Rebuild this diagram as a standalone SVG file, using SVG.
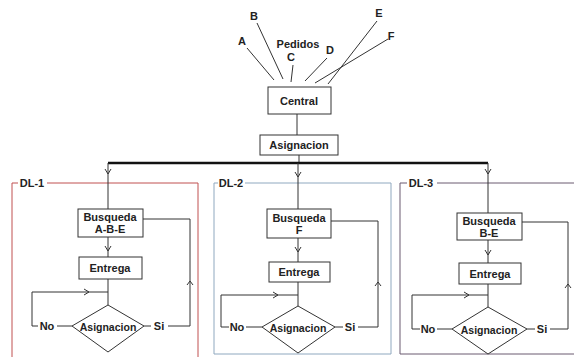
<svg xmlns="http://www.w3.org/2000/svg" width="574" height="357" viewBox="0 0 574 357">
<style>
text{font-family:"Liberation Sans",Arial,sans-serif;font-weight:bold;font-size:11px;fill:#222;text-anchor:middle;dominant-baseline:central}
.dt{font-size:10.5px}
.box{fill:#fff;stroke:#333;stroke-width:1}
.ln{fill:none;stroke:#333;stroke-width:1}
.thick{fill:none;stroke:#111;stroke-width:2.5}
.chev{fill:none;stroke:#333;stroke-width:1}
</style>
<rect width="574" height="357" fill="#fff"/>
<g id="frames">
<g id="frame-dl1">
<path d="M18,183 H12 V357 M47,183 H198 V357" fill="none" stroke="#c05050" stroke-width="1"/>
<text x="32" y="183">DL-1</text>
</g>
<g id="frame-dl2">
<path d="M218,183 H214 V354 H391 V183 H245" fill="none" stroke="#8fa8bf" stroke-width="1"/>
<text x="231" y="183">DL-2</text>
</g>
<g id="frame-dl3">
<path d="M407,183 H400 V354 H574 M437,183 H574" fill="none" stroke="#6a5a70" stroke-width="1"/>
<text x="421" y="183">DL-3</text>
</g>
</g>
<g id="connectors">
<path class="ln" d="M247,48 L274,80 M257,23 L283,79 M293,65 L291,82 M327,58 L305,81 M377,21 L328,84 M388,39 L315,83"/>
<path class="ln" d="M297,114 V135 M299,155 V163"/>
<path class="thick" d="M108,163 H488"/>
<path class="ln" d="M108,163 V209 M298,163 V209 M488,163 V213"/>
<path class="chev" d="M105,169 L108,174 L111,169 M295,172 L298,177 L301,172 M485,169 L488,174 L491,169"/>
<!-- DL-1 -->
<path class="ln" d="M108,237 V257 M108,279 V305 M108,292 H32 V326 H38 M57,326 H72 M144,326 H151 M168,326 H190 V219 H143"/>
<path class="chev" d="M105,246 L108,251 L111,246 M84,289 L89,292 L84,295 M187,285 L190,281 L193,285"/>
<!-- DL-2 -->
<path class="ln" d="M298,238 V262 M298,282 V306 M298,295 H221 V327 H229 M246,327 H262 M335,327 H343 M358,327 H378 V221 H331"/>
<path class="chev" d="M295,247 L298,252 L301,247 M273,292 L278,295 L273,298 M375,286 L378,282 L381,286"/>
<!-- DL-3 -->
<path class="ln" d="M488,240 V263 M488,284 V307 M488,295 H412 V329 H420 M437,329 H452 M527,329 H535 M550,329 H568 V222 H522"/>
<path class="chev" d="M485,250 L488,255 L491,250 M464,292 L469,295 L464,298 M565,288 L568,284 L571,288"/>
<text x="47" y="326">No</text>
<text x="159" y="326">Si</text>
<text x="237" y="327">No</text>
<text x="350" y="327">Si</text>
<text x="428" y="329">No</text>
<text x="542" y="329">Si</text>
</g>
<g id="orders">
<text x="242" y="41">A</text>
<text x="254" y="16">B</text>
<text x="298" y="44">Pedidos</text>
<text x="291" y="57">C</text>
<text x="330" y="50">D</text>
<text x="379" y="13">E</text>
<text x="391" y="36">F</text>
</g>
<g id="central"><rect class="box" x="268" y="87" width="63" height="27"/><text x="299" y="101">Central</text></g>
<g id="asignacion"><rect class="box" x="260" y="135" width="78" height="20"/><text x="299" y="145">Asignacion</text></g>
<g id="busqueda1"><rect class="box" x="78" y="209" width="65" height="28"/><text x="110" y="217">Busqueda</text><text x="110" y="229">A-B-E</text></g>
<g id="entrega1"><rect class="box" x="79" y="257" width="63" height="22"/><text x="110" y="268">Entrega</text></g>
<g id="decision1"><path class="box" d="M108,305 L144,326 L108,352 L72,326 Z"/><text class="dt" x="108" y="327">Asignacion</text></g>
<g id="busqueda2"><rect class="box" x="267" y="209" width="64" height="29"/><text x="299" y="218">Busqueda</text><text x="299" y="230">F</text></g>
<g id="entrega2"><rect class="box" x="269" y="262" width="61" height="20"/><text x="299" y="272">Entrega</text></g>
<g id="decision2"><path class="box" d="M298,306 L335,327 L298,353 L262,327 Z"/><text class="dt" x="298" y="328">Asignacion</text></g>
<g id="busqueda3"><rect class="box" x="457" y="213" width="65" height="27"/><text x="489" y="221">Busqueda</text><text x="489" y="233">B-E</text></g>
<g id="entrega3"><rect class="box" x="459" y="263" width="62" height="21"/><text x="490" y="274">Entrega</text></g>
<g id="decision3"><path class="box" d="M488,307 L527,329 L488,354 L452,329 Z"/><text class="dt" x="489" y="330">Asignacion</text></g>
</svg>
